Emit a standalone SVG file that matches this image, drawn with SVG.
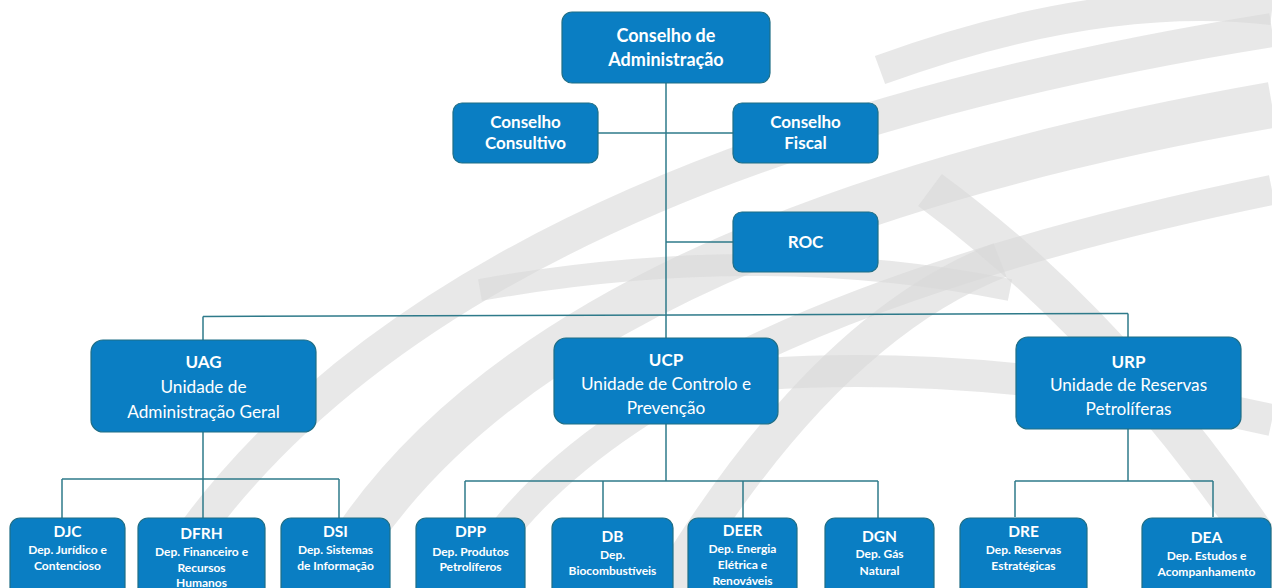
<svg xmlns="http://www.w3.org/2000/svg" width="1272" height="588" viewBox="0 0 1272 588">
<style>
.bg{fill:none;stroke:#d8d8d8;stroke-linecap:butt;opacity:0.6}
.box{fill:#0a7ec3;stroke:#1f6e86;stroke-width:1.2}
.ln{fill:none;stroke:#2e7a8a;stroke-width:1.5}
text{font-family:Lato,"Open Sans","Liberation Sans",sans-serif;fill:#ffffff;text-anchor:middle}
.t1{font-size:18px;font-weight:bold}
.t2{font-size:17px;font-weight:bold}
.h{font-size:17px;font-weight:bold}
.r{font-size:17.2px}
.st{font-size:15.5px;font-weight:bold}
.ss{font-size:12px;font-weight:bold}
</style>
<rect width="1272" height="588" fill="#ffffff"/>
<g id="background">
<path class="bg" d="M150 600 Q 400 170 1272 30" stroke-width="34"/>
<path class="bg" d="M320 600 Q 500 240 1272 105" stroke-width="46"/>
<path class="bg" d="M460 600 Q 590 330 1272 190" stroke-width="30"/>
<path class="bg" d="M480 290 Q 760 240 1010 290" stroke-width="22"/>
<path class="bg" d="M700 380 Q 950 350 1272 420" stroke-width="32"/>
<path class="bg" d="M660 600 Q 820 330 1000 260" stroke-width="36"/>
<path class="bg" d="M930 190 Q 1120 330 1272 560" stroke-width="40"/>
<path class="bg" d="M880 70 Q 1100 -10 1272 10" stroke-width="30"/>
</g>
<g id="connectors">
<path class="ln" d="M666 83 V338"/>
<path class="ln" d="M598 133 H733"/>
<path class="ln" d="M666 242 H733"/>
<path class="ln" d="M203 316.5 L1128 313.5"/>
<path class="ln" d="M203 316.5 V340"/>
<path class="ln" d="M1128 313.5 V337"/>
<path class="ln" d="M203 432 V518"/>
<path class="ln" d="M62 479 H339"/>
<path class="ln" d="M62 479 V518"/>
<path class="ln" d="M339 479 V518"/>
<path class="ln" d="M666 424 V481"/>
<path class="ln" d="M465 481 H878"/>
<path class="ln" d="M465 481 V518"/>
<path class="ln" d="M603 481 V518"/>
<path class="ln" d="M743 481 V518"/>
<path class="ln" d="M878 481 V518"/>
<path class="ln" d="M1128 429 V481"/>
<path class="ln" d="M1015 481 H1213"/>
<path class="ln" d="M1015 481 V517"/>
<path class="ln" d="M1213 481 V517"/>
</g>
<g id="ca"><rect class="box" x="562" y="12" width="208" height="71" rx="10"/>
<text class="t1" x="666" y="42">Conselho de</text><text class="t1" x="666" y="66">Administração</text></g>
<g id="cc"><rect class="box" x="453" y="103" width="145" height="60" rx="9"/>
<text class="t2" x="525.5" y="128">Conselho</text><text class="t2" x="525.5" y="149">Consultivo</text></g>
<g id="cf"><rect class="box" x="733" y="103" width="145" height="60" rx="9"/>
<text class="t2" x="805.5" y="128">Conselho</text><text class="t2" x="805.5" y="149">Fiscal</text></g>
<g id="roc"><rect class="box" x="733" y="212" width="145" height="60" rx="9"/>
<text class="t2" x="805.5" y="248">ROC</text></g>
<g id="uag"><rect class="box" x="91" y="340" width="225" height="92" rx="12"/>
<text class="h" x="203.5" y="368">UAG</text><text class="r" x="203.5" y="393">Unidade de</text><text class="r" x="203.5" y="418">Administração Geral</text></g>
<g id="ucp"><rect class="box" x="554" y="338" width="224" height="86" rx="12"/>
<text class="h" x="666" y="366">UCP</text><text class="r" x="666" y="390">Unidade de Controlo e</text><text class="r" x="666" y="414">Prevenção</text></g>
<g id="urp"><rect class="box" x="1016" y="337" width="225" height="92" rx="12"/>
<text class="h" x="1128.5" y="368">URP</text><text class="r" x="1128.5" y="391">Unidade de Reservas</text><text class="r" x="1128.5" y="415">Petrolíferas</text></g>
<g id="djc"><rect class="box" x="10" y="518" width="115" height="80" rx="10"/>
<text class="st" x="67.5" y="537">DJC</text><text class="ss" x="67.5" y="554">Dep. Jurídico e</text><text class="ss" x="67.5" y="570">Contencioso</text></g>
<g id="dfrh"><rect class="box" x="138" y="518" width="127" height="80" rx="10"/>
<text class="st" x="201.5" y="539">DFRH</text><text class="ss" x="201.5" y="556">Dep. Financeiro e</text><text class="ss" x="201.5" y="572">Recursos</text><text class="ss" x="201.5" y="587">Humanos</text></g>
<g id="dsi"><rect class="box" x="281" y="518" width="109" height="80" rx="10"/>
<text class="st" x="335.5" y="537">DSI</text><text class="ss" x="335.5" y="554">Dep. Sistemas</text><text class="ss" x="335.5" y="570">de Informação</text></g>
<g id="dpp"><rect class="box" x="416" y="518" width="109" height="80" rx="10"/>
<text class="st" x="470.5" y="537">DPP</text><text class="ss" x="470.5" y="556">Dep. Produtos</text><text class="ss" x="470.5" y="571">Petrolíferos</text></g>
<g id="db"><rect class="box" x="552" y="518" width="121" height="80" rx="10"/>
<text class="st" x="612.5" y="542">DB</text><text class="ss" x="612.5" y="559">Dep.</text><text class="ss" x="612.5" y="575">Biocombustíveis</text></g>
<g id="deer"><rect class="box" x="688" y="518" width="109" height="80" rx="10"/>
<text class="st" x="742.5" y="536">DEER</text><text class="ss" x="742.5" y="553">Dep. Energia</text><text class="ss" x="742.5" y="569">Elétrica e</text><text class="ss" x="742.5" y="585">Renováveis</text></g>
<g id="dgn"><rect class="box" x="825" y="518" width="109" height="80" rx="10"/>
<text class="st" x="879.5" y="542">DGN</text><text class="ss" x="879.5" y="558">Dep. Gás</text><text class="ss" x="879.5" y="575">Natural</text></g>
<g id="dre"><rect class="box" x="960" y="518" width="127" height="80" rx="10"/>
<text class="st" x="1023.5" y="537">DRE</text><text class="ss" x="1023.5" y="554">Dep. Reservas</text><text class="ss" x="1023.5" y="570">Estratégicas</text></g>
<g id="dea"><rect class="box" x="1142" y="518" width="129" height="80" rx="10"/>
<text class="st" x="1206.5" y="543">DEA</text><text class="ss" x="1206.5" y="560">Dep. Estudos e</text><text class="ss" x="1206.5" y="576">Acompanhamento</text></g>
</svg>
